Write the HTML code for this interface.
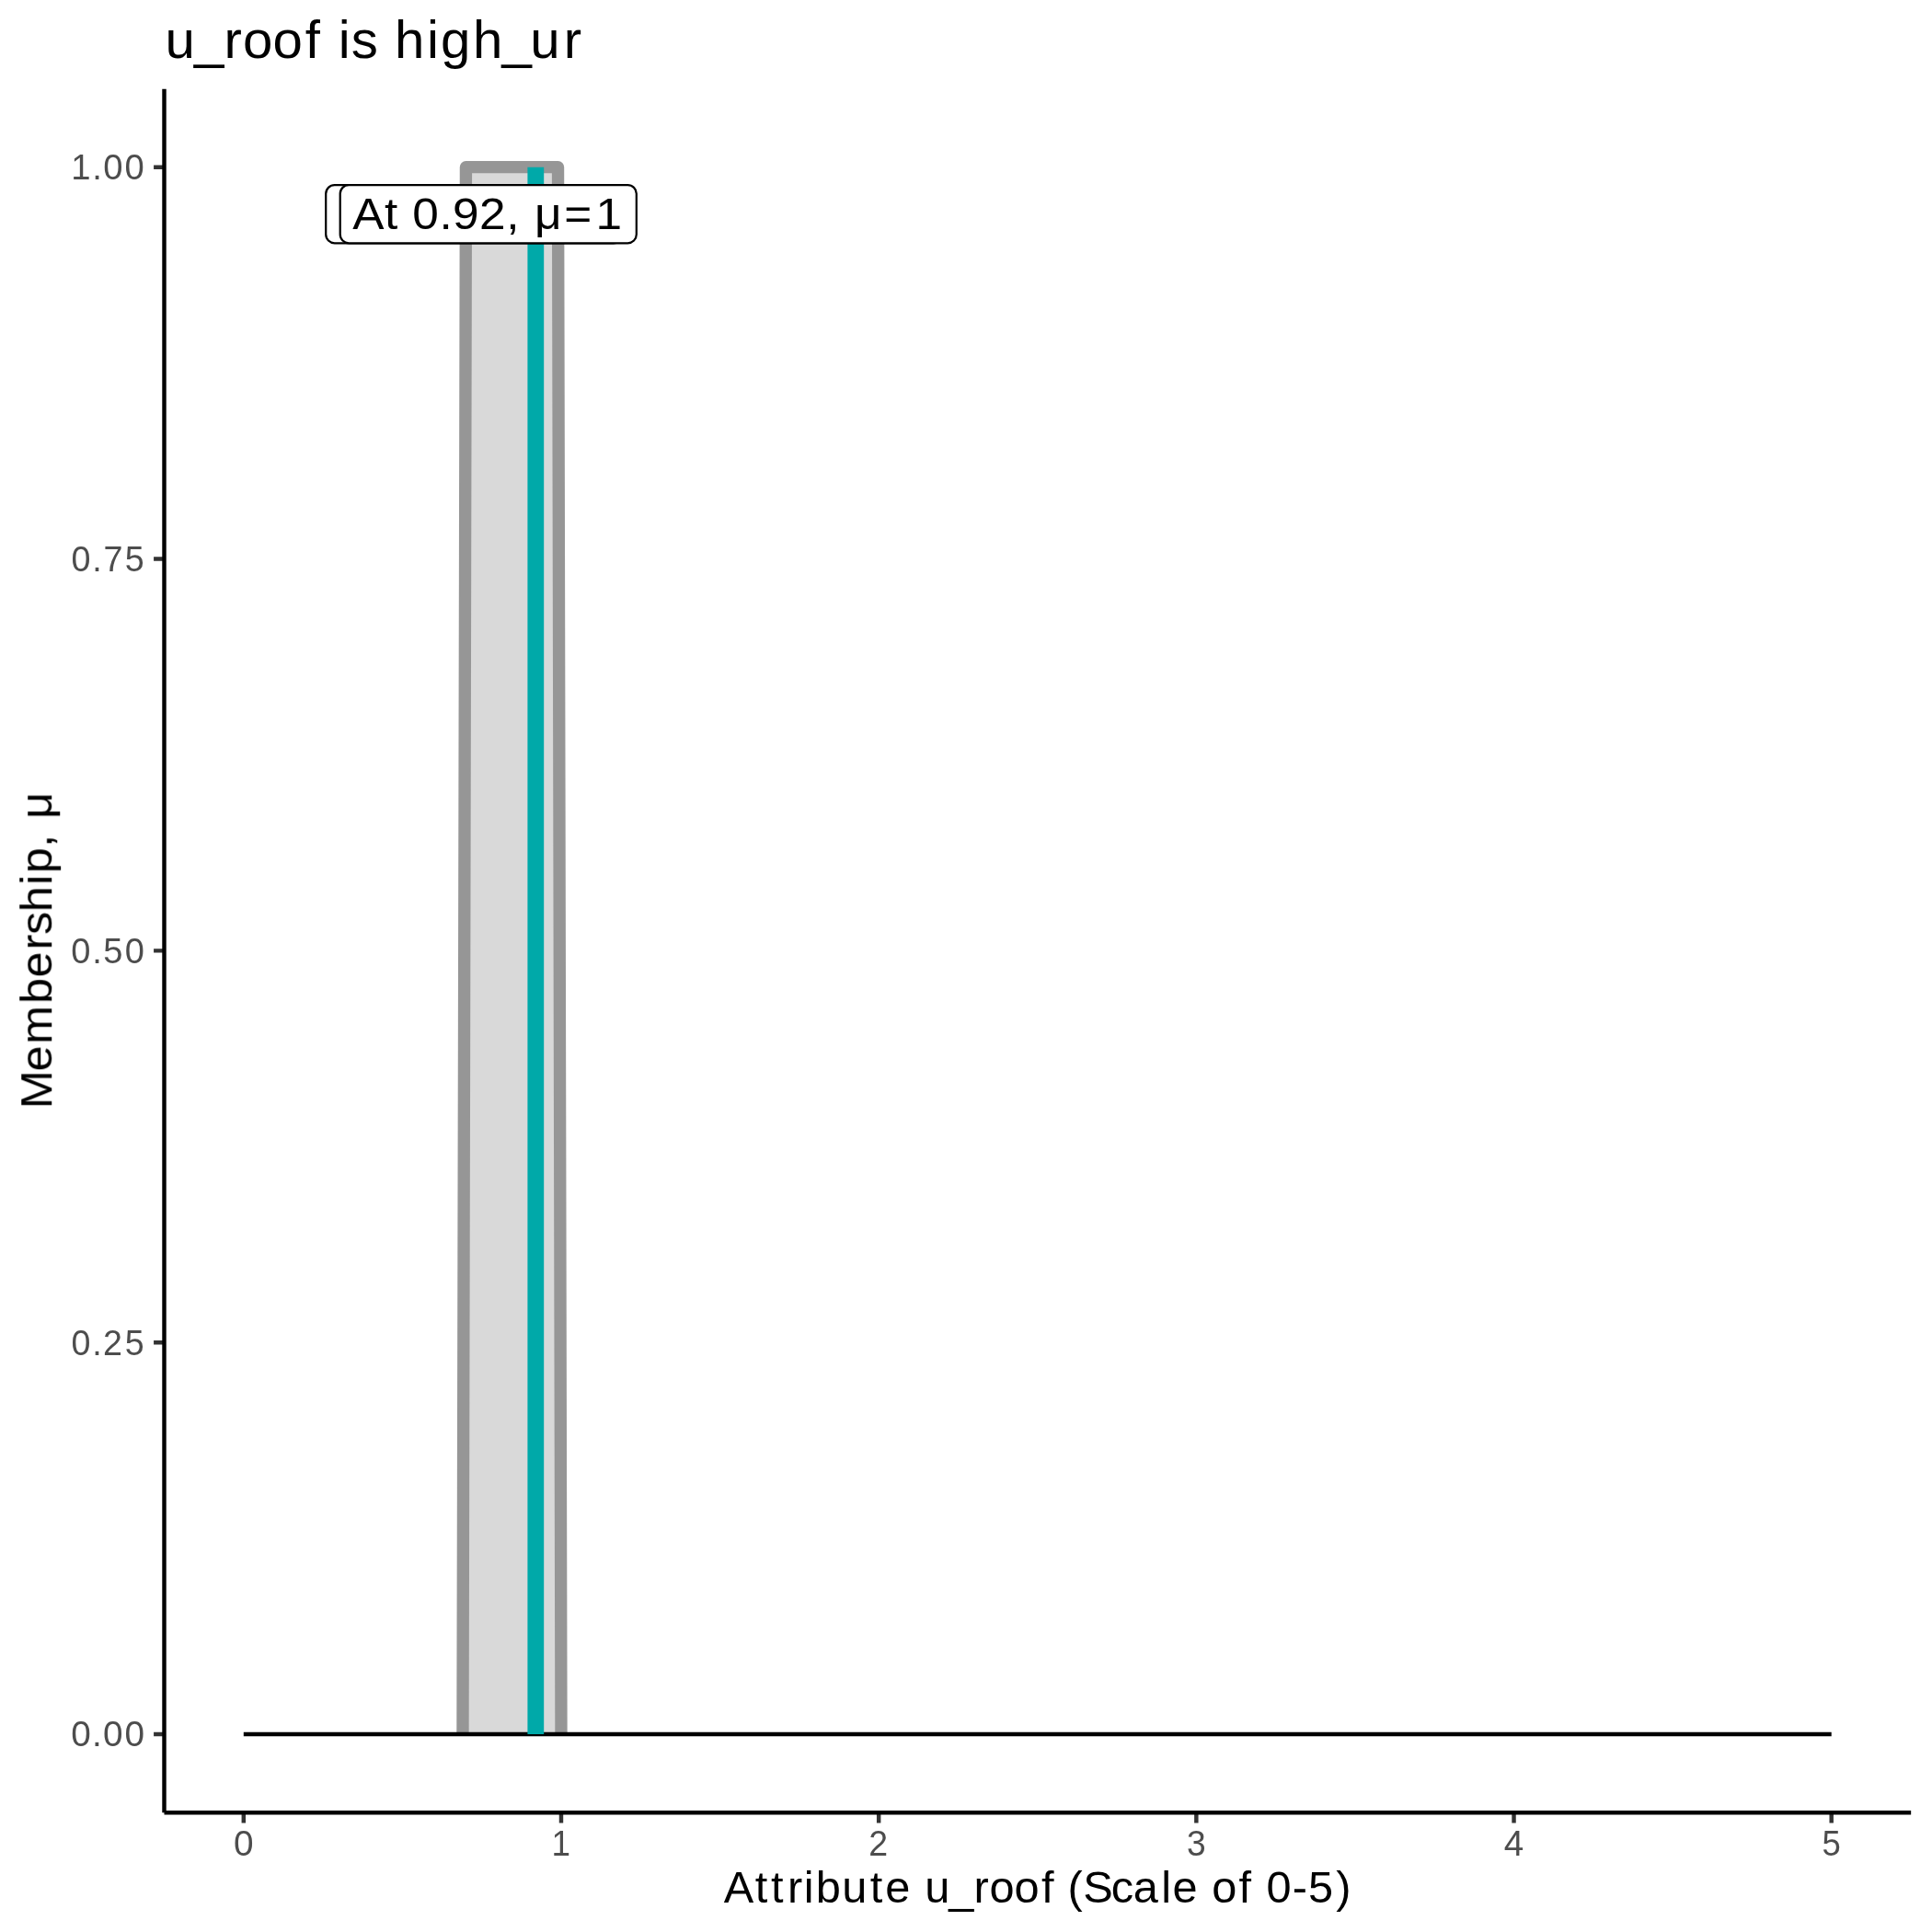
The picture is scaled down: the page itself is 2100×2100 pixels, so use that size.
<!DOCTYPE html>
<html>
<head>
<meta charset="utf-8">
<title>u_roof is high_ur</title>
<style>
html,body{margin:0;padding:0;background:#ffffff;}
body{width:2100px;height:2100px;overflow:hidden;}
svg{display:block;}
text{font-family:"Liberation Sans",sans-serif;}
.t{opacity:0.999;}
</style>
</head>
<body>
<svg width="2100" height="2100" viewBox="0 0 2100 2100">
<rect x="0" y="0" width="2100" height="2100" fill="#ffffff"/>
<g class="t">
<text transform="translate(178.50,62.93) scale(1.0089,1)" x="1.10 32.25 64.48 84.84 117.00 151.99 169.57 187.47 201.57 230.45 248.35 282.89 297.75 332.65 363.67 394.33 430.45" y="0" font-size="57.66" fill="#000000">u_roof is high_ur</text>
<text transform="translate(56.24,1033.4) rotate(-90) translate(-170.79,0.00) scale(1.0471,1)" x="-1.12 37.95 66.08 108.06 135.30 163.86 179.76 203.34 231.37 243.48 270.38 284.73 299.94" y="0" font-size="48.05" fill="#000000">Membership, μ</text>
<text transform="translate(787.35,2068.30) scale(1.0138,1)" x="-0.61 33.01 49.94 67.76 85.16 97.95 126.29 156.18 172.45 200.15 214.86 240.69 267.44 284.31 310.98 340.03 354.62 368.04 384.66 414.71 438.43 468.36 480.57 508.27 522.58 551.63 566.22 581.04 608.93 626.01 655.90" y="0" font-size="48.05" fill="#000000">Attribute u_roof (Scale of 0-5)</text>
<text transform="translate(76.31,195.07) scale(0.9789,1)" x="0.90 24.36 36.75 60.58" y="0" font-size="39.03" fill="#4D4D4D">1.00</text>
<text transform="translate(76.31,620.87) scale(0.9659,1)" x="1.17 24.76 37.39 61.45" y="0" font-size="39.03" fill="#4D4D4D">0.75</text>
<text transform="translate(76.31,1046.72) scale(0.9748,1)" x="1.06 24.49 36.86 60.89" y="0" font-size="39.03" fill="#4D4D4D">0.50</text>
<text transform="translate(76.31,1472.57) scale(0.9644,1)" x="1.19 24.81 37.04 61.57" y="0" font-size="39.03" fill="#4D4D4D">0.25</text>
<text transform="translate(76.31,1898.37) scale(0.9931,1)" x="0.84 23.94 36.07 59.56" y="0" font-size="39.03" fill="#4D4D4D">0.00</text>
<text transform="translate(253.14,2017.48) scale(0.9935,1)" x="0.84" y="0" font-size="39.03" fill="#4D4D4D">0</text>
<text transform="translate(598.32,2017.48) scale(0.9472,1)" x="1.34" y="0" font-size="38.93" fill="#4D4D4D">1</text>
<text transform="translate(943.50,2017.48) scale(0.9600,1)" x="0.82" y="0" font-size="39.03" fill="#4D4D4D">2</text>
<text transform="translate(1288.68,2017.48) scale(0.9542,1)" x="1.42" y="0" font-size="39.03" fill="#4D4D4D">3</text>
<text transform="translate(1633.86,2017.48) scale(0.9931,1)" x="0.88" y="0" font-size="38.93" fill="#4D4D4D">4</text>
<text transform="translate(1979.04,2017.48) scale(0.9368,1)" x="1.48" y="0" font-size="38.93" fill="#4D4D4D">5</text>
</g>
<g stroke="#333333" stroke-width="4.44" fill="none">
<path d="M178.5 181.7H167.08M178.5 607.5H167.08M178.5 1033.35H167.08M178.5 1459.2H167.08M178.5 1885H167.08"/>
<path d="M264.8 1970.2V1981.62M609.98 1970.2V1981.62M955.16 1970.2V1981.62M1300.34 1970.2V1981.62M1645.52 1970.2V1981.62M1990.7 1970.2V1981.62"/>
</g>
<g stroke="#000000" stroke-width="4.44" fill="none">
<path d="M178.5 96.8V1970.2"/>
<path d="M178.5 1970.2H2077.17"/>
</g>
<polygon points="502.97,1885 506.43,181.7 606.53,181.7 609.98,1885" fill="#D9D9D9"/>
<polyline points="502.97,1885 506.43,181.7 606.53,181.7 609.98,1885" fill="none" stroke="#969696" stroke-width="13.33" stroke-linejoin="round" stroke-linecap="butt"/>
<path d="M264.8 1885H1990.7" stroke="#000000" stroke-width="4.44" fill="none"/>
<path d="M582.3 1885V181.7" stroke="#00A9A9" stroke-width="17.78" fill="none"/>
<rect x="354.2" y="201.1" width="322.1" height="63.2" rx="9.5" ry="9.5" fill="#ffffff" stroke="#000000" stroke-width="2.22"/>
<rect x="369.7" y="201.1" width="322.1" height="63.2" rx="9.5" ry="9.5" fill="#ffffff" stroke="#000000" stroke-width="2.22"/>
<g class="t">
<text transform="translate(384.72,248.60) scale(1.0494,1)" x="-1.39 31.67 46.57 60.60 88.39 102.26 129.83 157.66 172.03 187.14 217.79 250.51" y="0" font-size="48.97" fill="#000000">At 0.92, μ=1</text>
</g>
</svg>
</body>
</html>
